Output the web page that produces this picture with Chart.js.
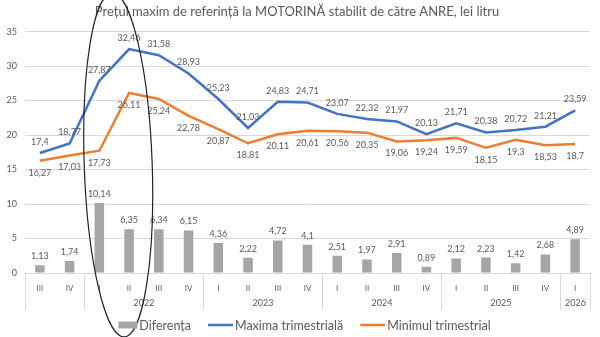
<!DOCTYPE html>
<html>
<head>
<meta charset="utf-8">
<script src="https://cdn.jsdelivr.net/npm/chart.js@4/dist/chart.umd.min.js"></script>
<style>
  html, body { margin: 0; padding: 0; background: #fff; }
  #wrap { width: 600px; height: 337px; }
</style>
</head>
<body>
<div id="wrap"><canvas id="myChart"></canvas></div>
<script>
const quarters = ['III', 'IV', 'I', 'II', 'III', 'IV', 'I', 'II', 'III', 'IV', 'I', 'II', 'III', 'IV', 'I', 'II', 'III', 'IV', 'I'];
// year groups: label + how many quarters it covers
const years = ['', '2022', '2023', '2024', '2025', '2026'];
const yearSpans = [2, 4, 4, 4, 4, 1];

const maxima = [17.4, 18.77, 27.87, 32.46, 31.58, 28.93, 25.23, 21.03, 24.83, 24.71, 23.07, 22.32, 21.97, 20.13, 21.71, 20.38, 20.72, 21.21, 23.59];
const minimum = [16.27, 17.03, 17.73, 26.11, 25.24, 22.78, 20.87, 18.81, 20.11, 20.61, 20.56, 20.35, 19.06, 19.24, 19.59, 18.15, 19.3, 18.53, 18.7];
const diferenta = [1.13, 1.74, 10.14, 6.35, 6.34, 6.15, 4.36, 2.22, 4.72, 4.1, 2.51, 1.97, 2.91, 0.89, 2.12, 2.23, 1.42, 2.68, 4.89];

const FONT = 'Lato, "Open Sans", sans-serif';
const GREY_TXT = '#595959';

function fmt(v){
    return String(v).replace('.', ',');
}

// value labels above bars / above maxima / below minimum
const valueLabels = {
    id: 'valueLabels',
    afterDatasetsDraw(chart){
        const ctx = chart.ctx;
        ctx.save();
        ctx.font = '9px ' + FONT;
        ctx.fillStyle = GREY_TXT;
        ctx.textAlign = 'center';
        ctx.textBaseline = 'middle';
        chart.data.datasets.forEach((ds, i) => {
            const meta = chart.getDatasetMeta(i);
            meta.data.forEach((el, j) => {
                const v = ds.data[j];
                let y;
                if (ds.type === 'bar') y = el.y - 9;
                else if (ds.label === 'Minimul trimestrial') y = el.y + 12;
                else y = el.y - 11;
                ctx.fillText(fmt(v), el.x, y);
            });
        });
        ctx.restore();
    }
};

// legend row under the axis, in dataset order
const bottomLegend = {
    id: 'bottomLegend',
    afterDraw(chart){
        const ctx = chart.ctx;
        const area = chart.chartArea;
        ctx.save();
        ctx.font = '12.5px ' + FONT;
        ctx.textBaseline = 'middle';
        ctx.textAlign = 'left';
        const items = chart.data.datasets.map(ds => ({
            text: ds.label,
            color: ds.type === 'bar' ? ds.backgroundColor : ds.borderColor,
            bar: ds.type === 'bar'
        }));
        const symW = it => it.bar ? 19 : 25;
        const gap = 2, spacing = 17;
        let total = 0;
        items.forEach((it, k) => {
            it.w = symW(it) + gap + ctx.measureText(it.text).width;
            total += it.w + (k ? spacing : 0);
        });
        let x = (area.left + area.right) / 2 - total / 2 - 3;
        const y = 325;
        items.forEach(it => {
            if (it.bar) {
                ctx.fillStyle = it.color;
                ctx.fillRect(x, y - 3.5, 19, 7);
            } else {
                ctx.strokeStyle = it.color;
                ctx.lineWidth = 2.5;
                ctx.beginPath();
                ctx.moveTo(x, y);
                ctx.lineTo(x + 25, y);
                ctx.stroke();
            }
            ctx.fillStyle = GREY_TXT;
            ctx.fillText(it.text, x + symW(it) + gap, y + 1);
            x += it.w + spacing;
        });
        ctx.restore();
    }
};

// second row of the category axis: years and group separators
const yearAxis = {
    id: 'yearAxis',
    afterDraw(chart){
        const ctx = chart.ctx;
        const x = chart.scales.x;
        const area = chart.chartArea;
        const top = area.bottom;
        const bottom = area.bottom + 37;
        ctx.save();
        ctx.strokeStyle = '#D9D9D9';
        ctx.lineWidth = 1;
        ctx.font = '9px ' + FONT;
        ctx.fillStyle = GREY_TXT;
        ctx.textAlign = 'center';
        ctx.textBaseline = 'middle';
        let start = 0;
        const edge = idx => Math.round(x.getPixelForValue(idx - 0.5)) + 0.5;
        ctx.beginPath();
        ctx.moveTo(edge(0), top);
        ctx.lineTo(edge(0), bottom);
        yearSpans.forEach((n, k) => {
            const end = start + n;
            const ex = edge(end);
            ctx.moveTo(ex, top);
            ctx.lineTo(ex, bottom);
            if (years[k]) {
                const cx = (edge(start) + ex) / 2;
                ctx.fillText(years[k], cx, area.bottom + 30);
            }
            start = end;
        });
        ctx.stroke();

        // hand-drawn ring around 2022 I-II
        const cx = (x.getPixelForValue(2) + x.getPixelForValue(3)) / 2 + 4;
        ctx.beginPath();
        ctx.strokeStyle = '#1c2333';
        ctx.lineWidth = 1.2;
        ctx.ellipse(cx, 165, 34, 172, -0.035, 0, Math.PI * 2);
        ctx.stroke();
        ctx.restore();
    }
};

const ctx = document.getElementById('myChart').getContext('2d');
const myChart = new Chart(ctx, {
    data: {
        labels: quarters,
        datasets: [
            {
                type: 'bar',
                label: 'Diferența',
                data: diferenta,
                backgroundColor: '#A5A5A5',
                barPercentage: 0.32,
                categoryPercentage: 1,
                order: 3
            },
            {
                type: 'line',
                label: 'Maxima trimestrială',
                data: maxima,
                borderColor: '#4472C4',
                backgroundColor: '#4472C4',
                borderWidth: 2.5,
                pointRadius: 0,
                tension: 0,
                order: 1
            },
            {
                type: 'line',
                label: 'Minimul trimestrial',
                data: minimum,
                borderColor: '#ED7D31',
                backgroundColor: '#ED7D31',
                borderWidth: 2.5,
                pointRadius: 0,
                tension: 0,
                order: 2
            }
        ]
    },
    options: {
        responsive: true,
        maintainAspectRatio: false,
        animation: false,
        layout: { padding: { left: 4, right: 10, top: 0, bottom: 26 } },
        plugins: {
            title: {
                display: true,
                text: 'Prețul maxim de referință la MOTORINĂ stabilit de către ANRE, lei litru',
                color: GREY_TXT,
                font: { family: FONT, size: 13, weight: 'normal' },
                padding: { top: 4, bottom: 12 }
            },
            legend: { display: false },
            tooltip: { enabled: false }
        },
        scales: {
            y: {
                min: 0,
                max: 35,
                ticks: {
                    stepSize: 5,
                    color: GREY_TXT,
                    font: { family: FONT, size: 9 },
                    padding: 8
                },
                grid: { color: '#D9D9D9', drawTicks: false },
                border: { display: false },
                afterFit(scale){ scale.width = 21; }
            },
            x: {
                ticks: {
                    color: GREY_TXT,
                    font: { family: FONT, size: 8 },
                    padding: 3,
                    maxRotation: 0,
                    autoSkip: false
                },
                grid: { display: false },
                border: { display: true, color: '#D9D9D9' },
                afterFit(scale){ scale.height = 38; }
            }
        }
    },
    plugins: [valueLabels, yearAxis, bottomLegend]
});
</script>
</body>
</html>
